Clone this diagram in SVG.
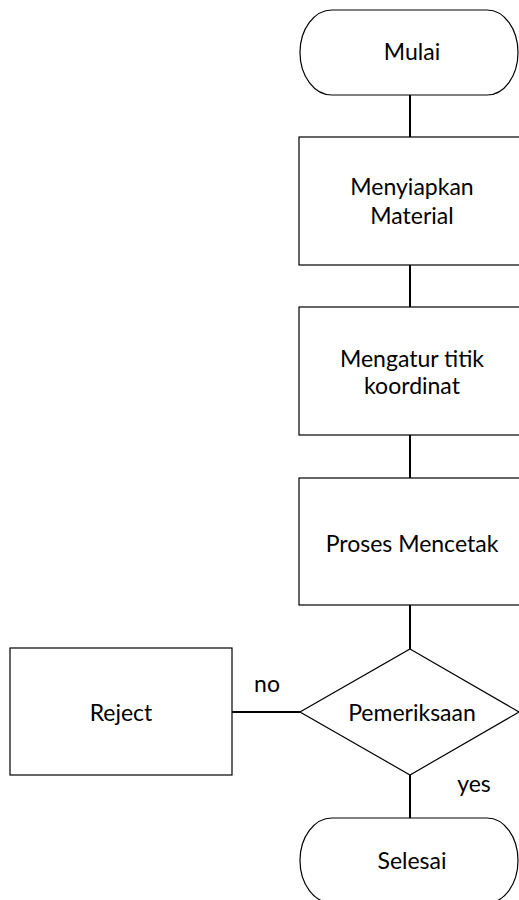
<svg xmlns="http://www.w3.org/2000/svg" width="519" height="900" viewBox="0 0 519 900">
<style>
.shape{fill:#fff;stroke:#000;stroke-width:1.2}
.conn{stroke:#000;stroke-width:2;fill:none}
text{font-family:Lato,"Liberation Sans",sans-serif;font-size:23px;fill:#000;text-anchor:middle}
</style>
<rect width="519" height="900" fill="#fff"/>
<g id="connectors">
<line class="conn" x1="410" y1="95" x2="410" y2="137"/>
<line class="conn" x1="410" y1="265" x2="410" y2="307"/>
<line class="conn" x1="410" y1="435" x2="410" y2="478"/>
<line class="conn" x1="410" y1="605" x2="410" y2="649"/>
<line class="conn" x1="300" y1="712" x2="232" y2="712"/>
<line class="conn" x1="410" y1="775" x2="410" y2="818"/>
<text x="267" y="692">no</text>
<text x="474" y="792">yes</text>
</g>
<g id="mulai">
<path class="shape" d="M332,10 H487 A31,42.5 0 0 1 487,95 H332 A32,42.5 0 0 1 332,10 Z"/>
<text x="412" y="60">Mulai</text>
</g>
<g id="menyiapkan">
<rect class="shape" x="299" y="137" width="222" height="128"/>
<text x="412" y="195">Menyiapkan</text>
<text x="412" y="224">Material</text>
</g>
<g id="mengatur">
<rect class="shape" x="299" y="307" width="222" height="128"/>
<text x="412" y="367">Mengatur titik</text>
<text x="412" y="394">koordinat</text>
</g>
<g id="mencetak">
<rect class="shape" x="299" y="478" width="222" height="127"/>
<text x="412" y="552">Proses Mencetak</text>
</g>
<g id="pemeriksaan">
<polygon class="shape" points="410,649 519,712 410,775 300,712"/>
<text x="412" y="721">Pemeriksaan</text>
</g>
<g id="reject">
<rect class="shape" x="10" y="648" width="222" height="127"/>
<text x="121" y="721">Reject</text>
</g>
<g id="selesai">
<path class="shape" d="M332,818 H487 A31,42.5 0 0 1 487,903 H332 A32,42.5 0 0 1 332,818 Z"/>
<text x="412" y="869">Selesai</text>
</g>
</svg>
